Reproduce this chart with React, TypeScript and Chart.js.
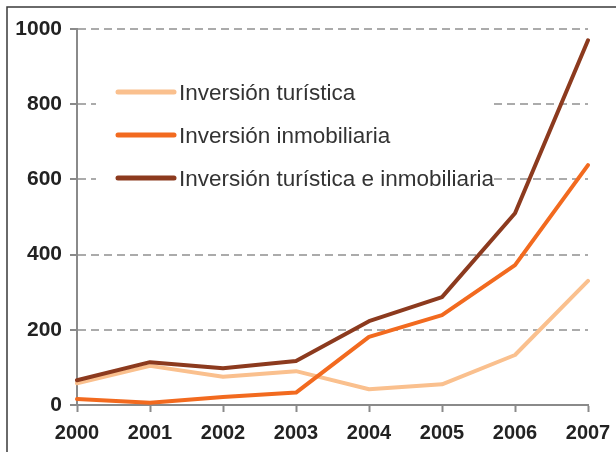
import React, { useEffect, useRef } from "react";
import { Chart, registerables } from "chart.js";

Chart.register(...registerables);

const years = ["2000", "2001", "2002", "2003", "2004", "2005", "2006", "2007"];
const turistica = [58, 104, 75, 90, 42, 55, 133, 330];
const inmobiliaria = [16, 6, 21, 33, 181, 239, 372, 638];
const ambas = [66, 114, 98, 117, 223, 287, 510, 970];
const seriesNames = [
  "Inversión turística",
  "Inversión inmobiliaria",
  "Inversión turística e inmobiliaria",
];
const seriesColors = ["#FAC08E", "#F26A1F", "#8C3A1E"];
const yTicks = [0, 200, 400, 600, 800, 1000];

const FONT = "'Liberation Sans', Arial, sans-serif";

const framePlugin = {
  id: "frame",
  beforeDraw(chart: any) {
    const ctx = chart.ctx;
    ctx.save();
    ctx.fillStyle = "#ffffff";
    ctx.fillRect(0, 0, chart.width, chart.height);
    ctx.strokeStyle = "#3a3a3a";
    ctx.lineWidth = 1.5;
    ctx.strokeRect(7, 7, chart.width + 50, chart.height + 50);
    ctx.restore();
  },
};

const legendPlugin = {
  id: "innerLegend",
  beforeDatasetsDraw(chart: any) {
    const ctx = chart.ctx;
    ctx.save();
    ctx.fillStyle = "#ffffff";
    ctx.fillRect(96, 74, 396, 120);
    const ys = [92, 135, 178];
    seriesNames.forEach((name, i) => {
      ctx.strokeStyle = seriesColors[i];
      ctx.lineWidth = 5;
      ctx.lineCap = "round";
      ctx.beginPath();
      ctx.moveTo(118, ys[i]);
      ctx.lineTo(174, ys[i]);
      ctx.stroke();
      ctx.fillStyle = "#333333";
      ctx.font = `22.5px ${FONT}`;
      ctx.textBaseline = "middle";
      ctx.textAlign = "left";
      ctx.fillText(name, 179, ys[i] + 2);
    });
    ctx.restore();
  },
};

export default function App() {
  const ref = useRef<HTMLCanvasElement | null>(null);
  useEffect(() => {
    if (!ref.current) return;
    const data = [turistica, inmobiliaria, ambas];
    const chart = new Chart(ref.current, {
      type: "line",
      data: {
        labels: years,
        datasets: [2, 1, 0].map((i) => ({
          label: seriesNames[i],
          data: data[i],
          borderColor: seriesColors[i],
          backgroundColor: seriesColors[i],
          borderWidth: 4,
          pointRadius: 0,
          tension: 0,
          borderJoinStyle: "round",
          borderCapStyle: "round",
          fill: false,
        })) as any,
      },
      options: {
        animation: false,
        responsive: false,
        maintainAspectRatio: false,
        layout: { padding: { left: 0, right: 28, top: 29, bottom: 0 } },
        plugins: { legend: { display: false }, tooltip: { enabled: false } },
        scales: {
          x: {
            type: "category",
            offset: false,
            grid: {
              display: true,
              drawOnChartArea: false,
              drawTicks: true,
              tickLength: 7,
              tickColor: "#8a8a8a",
              tickWidth: 2,
            },
            border: { display: true, color: "#8a8a8a", width: 2 },
            ticks: {
              font: { family: FONT, weight: "bold", size: 20 },
              color: "#222222",
              padding: 9,
              maxRotation: 0,
              autoSkip: false,
            },
            afterFit: (s: any) => {
              s.height = 47;
              s.paddingRight = 0;
              s.paddingLeft = 0;
            },
          },
          y: {
            min: 0,
            max: 1000,
            afterBuildTicks: (s: any) => {
              s.ticks = yTicks.map((v) => ({ value: v }));
            },
            grid: {
              color: "#ababab",
              lineWidth: 2,
              drawTicks: true,
              tickLength: 7,
              tickColor: "#8a8a8a",
              tickWidth: 2,
            },
            border: { display: true, color: "#8a8a8a", width: 2, dash: [8, 5] },
            ticks: {
              font: { family: FONT, weight: "bold", size: 21 },
              color: "#222222",
              padding: 8,
              callback: (v: any) => String(v),
            },
            afterFit: (s: any) => {
              s.width = 77;
              s.paddingTop = 0;
              s.paddingBottom = 0;
            },
          },
        },
      } as any,
      plugins: [framePlugin, legendPlugin],
    });
    return () => chart.destroy();
  }, []);
  return (
    <div style={{ position: "fixed", left: 0, top: 0, width: 616, height: 452 }}>
      <canvas ref={ref} width={616} height={452} style={{ width: 616, height: 452 }} />
    </div>
  );
}
